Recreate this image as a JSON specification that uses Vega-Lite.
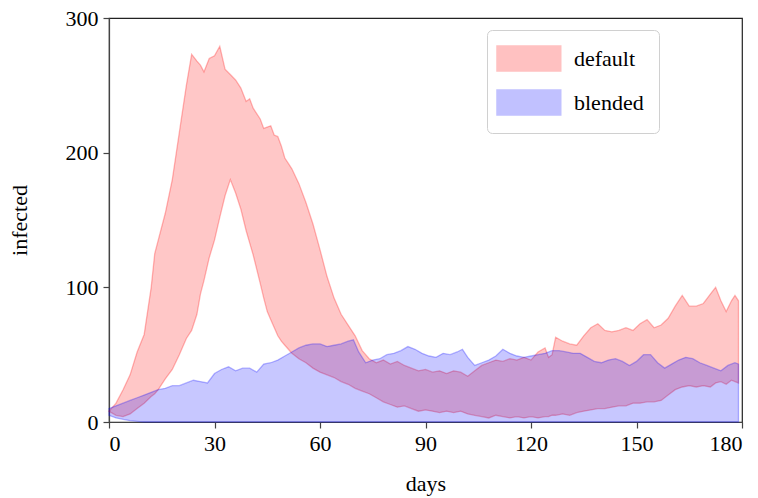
{
  "$schema": "https://vega.github.io/schema/vega-lite/v6.json",
  "width": 633,
  "height": 404,
  "autosize": "none",
  "padding": {"left": 109, "top": 18, "right": 16, "bottom": 76},
  "background": "white",
  "datasets": {
    "def": [
      {"d":0,"lo":8,"hi":8},{"d":2,"lo":5,"hi":14},{"d":4,"lo":4,"hi":24},{"d":6,"lo":6,"hi":35},{"d":8,"lo":10,"hi":52},
      {"d":10,"lo":14,"hi":65},{"d":12,"lo":19,"hi":100},{"d":13,"lo":21,"hi":125},{"d":14,"lo":24,"hi":135},{"d":16,"lo":32,"hi":155},
      {"d":18,"lo":39,"hi":180},{"d":20,"lo":50,"hi":215},{"d":22,"lo":62,"hi":250},{"d":23.5,"lo":68,"hi":273},{"d":25,"lo":80,"hi":268},
      {"d":26,"lo":95,"hi":265},{"d":27,"lo":105,"hi":260},{"d":28.5,"lo":122,"hi":270},{"d":30,"lo":135,"hi":272},{"d":31.5,"lo":152,"hi":279},
      {"d":33,"lo":168,"hi":262},{"d":34.5,"lo":180,"hi":258},{"d":36,"lo":170,"hi":254},{"d":37.5,"lo":158,"hi":248},{"d":39,"lo":142,"hi":238},
      {"d":40,"lo":133,"hi":240},{"d":41,"lo":124,"hi":233},{"d":43,"lo":103,"hi":225},{"d":44,"lo":92,"hi":218},{"d":45,"lo":82,"hi":219},
      {"d":46,"lo":76,"hi":220},{"d":47,"lo":70,"hi":213},{"d":48,"lo":64,"hi":212},{"d":49,"lo":60,"hi":205},{"d":50,"lo":57,"hi":196},
      {"d":51,"lo":54,"hi":192},{"d":52,"lo":51,"hi":188},{"d":54,"lo":47,"hi":177},{"d":56,"lo":44,"hi":163},{"d":58,"lo":40,"hi":147},
      {"d":60,"lo":37,"hi":128},{"d":62,"lo":35,"hi":108},{"d":64,"lo":33,"hi":92},{"d":66,"lo":30,"hi":80},{"d":68,"lo":28,"hi":72},
      {"d":70,"lo":25,"hi":64},{"d":72,"lo":23,"hi":53},{"d":74,"lo":21,"hi":47},{"d":76,"lo":18,"hi":44},{"d":78,"lo":15,"hi":46},
      {"d":80,"lo":13,"hi":43},{"d":82,"lo":11,"hi":45},{"d":84,"lo":12,"hi":42},{"d":86,"lo":10,"hi":40},{"d":88,"lo":8,"hi":38},
      {"d":90,"lo":9,"hi":39},{"d":92,"lo":8,"hi":37},{"d":94,"lo":7,"hi":38},{"d":96,"lo":8,"hi":36},{"d":98,"lo":7,"hi":38},
      {"d":100,"lo":8,"hi":37},{"d":102,"lo":6,"hi":34},{"d":104,"lo":5,"hi":38},{"d":106,"lo":4,"hi":42},{"d":108,"lo":3,"hi":44},
      {"d":110,"lo":5,"hi":46},{"d":112,"lo":4,"hi":45},{"d":114,"lo":3,"hi":47},{"d":116,"lo":4,"hi":46},{"d":118,"lo":3,"hi":48},
      {"d":120,"lo":4,"hi":46},{"d":122,"lo":3,"hi":52},{"d":124,"lo":4,"hi":55},{"d":125,"lo":4,"hi":48},{"d":126,"lo":5,"hi":50},
      {"d":127,"lo":5,"hi":63},{"d":129,"lo":6,"hi":60},{"d":131,"lo":5,"hi":58},{"d":133,"lo":7,"hi":57},{"d":135,"lo":8,"hi":64},
      {"d":137,"lo":9,"hi":70},{"d":139,"lo":10,"hi":73},{"d":141,"lo":10,"hi":68},{"d":143,"lo":11,"hi":67},{"d":145,"lo":12,"hi":68},
      {"d":147,"lo":12,"hi":70},{"d":149,"lo":14,"hi":68},{"d":151,"lo":14,"hi":73},{"d":153,"lo":15,"hi":76},{"d":155,"lo":15,"hi":70},
      {"d":157,"lo":16,"hi":72},{"d":159,"lo":20,"hi":77},{"d":161,"lo":24,"hi":86},{"d":163,"lo":26,"hi":94},{"d":165,"lo":27,"hi":86},
      {"d":167,"lo":26,"hi":86},{"d":169,"lo":27,"hi":88},{"d":171,"lo":26,"hi":95},{"d":172.5,"lo":29,"hi":100},{"d":174,"lo":30,"hi":90},
      {"d":175.5,"lo":28,"hi":82},{"d":177,"lo":31,"hi":90},{"d":178,"lo":30,"hi":94},{"d":179,"lo":29,"hi":90}
    ],
    "ble": [
      {"d":0,"lo":5,"hi":10},{"d":2,"lo":3,"hi":12},{"d":4,"lo":2,"hi":14},{"d":6,"lo":1,"hi":16},{"d":8,"lo":0.5,"hi":18},
      {"d":10,"lo":0,"hi":20},{"d":12,"lo":0,"hi":22},{"d":14,"lo":0,"hi":24},{"d":16,"lo":0,"hi":25},{"d":18,"lo":0,"hi":27},
      {"d":20,"lo":0,"hi":27},{"d":22,"lo":0,"hi":29},{"d":24,"lo":0,"hi":31},{"d":26,"lo":0,"hi":30},{"d":28,"lo":0,"hi":29},
      {"d":30,"lo":0,"hi":36},{"d":32,"lo":0,"hi":39},{"d":34,"lo":0,"hi":41},{"d":36,"lo":0,"hi":38},{"d":38,"lo":0,"hi":40},
      {"d":40,"lo":0,"hi":40},{"d":42,"lo":0,"hi":37},{"d":44,"lo":0,"hi":43},{"d":46,"lo":0,"hi":44},{"d":48,"lo":0,"hi":46},
      {"d":50,"lo":0,"hi":49},{"d":52,"lo":0,"hi":52},{"d":54,"lo":0,"hi":55},{"d":56,"lo":0,"hi":57},{"d":58,"lo":0,"hi":58},
      {"d":60,"lo":0,"hi":58},{"d":62,"lo":0,"hi":56},{"d":64,"lo":0,"hi":57},{"d":66,"lo":0,"hi":58},{"d":68,"lo":0,"hi":60},
      {"d":69.5,"lo":0,"hi":61},{"d":71,"lo":0,"hi":52},{"d":73,"lo":0,"hi":44},{"d":75,"lo":0,"hi":46},{"d":77,"lo":0,"hi":47},
      {"d":79,"lo":0,"hi":50},{"d":81,"lo":0,"hi":51},{"d":83,"lo":0,"hi":53},{"d":85,"lo":0,"hi":56},{"d":87,"lo":0,"hi":54},
      {"d":89,"lo":0,"hi":51},{"d":91,"lo":0,"hi":49},{"d":93,"lo":0,"hi":48},{"d":95,"lo":0,"hi":51},{"d":97,"lo":0,"hi":50},
      {"d":99,"lo":0,"hi":52},{"d":100.5,"lo":0,"hi":54},{"d":102,"lo":0,"hi":48},{"d":104,"lo":0,"hi":42},{"d":106,"lo":0,"hi":44},
      {"d":108,"lo":0,"hi":46},{"d":110,"lo":0,"hi":49},{"d":112,"lo":0,"hi":54},{"d":114,"lo":0,"hi":51},{"d":116,"lo":0,"hi":49},
      {"d":118,"lo":0,"hi":48},{"d":120,"lo":0,"hi":49},{"d":122,"lo":0,"hi":50},{"d":124,"lo":0,"hi":51},{"d":126,"lo":0,"hi":53},
      {"d":128,"lo":0,"hi":53},{"d":130,"lo":0,"hi":52},{"d":132,"lo":0,"hi":51},{"d":134,"lo":0,"hi":51},{"d":136,"lo":0,"hi":48},
      {"d":138,"lo":0,"hi":45},{"d":140,"lo":0,"hi":44},{"d":142,"lo":0,"hi":46},{"d":144,"lo":0,"hi":47},{"d":146,"lo":0,"hi":45},
      {"d":148,"lo":0,"hi":42},{"d":150,"lo":0,"hi":45},{"d":152,"lo":0,"hi":50},{"d":154,"lo":0,"hi":50},{"d":156,"lo":0,"hi":44},
      {"d":158,"lo":0,"hi":40},{"d":160,"lo":0,"hi":43},{"d":162,"lo":0,"hi":46},{"d":164,"lo":0,"hi":48},{"d":166,"lo":0,"hi":47},
      {"d":168,"lo":0,"hi":44},{"d":170,"lo":0,"hi":42},{"d":172,"lo":0,"hi":40},{"d":174,"lo":0,"hi":38},{"d":176,"lo":0,"hi":42},
      {"d":178,"lo":0,"hi":44},{"d":179,"lo":0,"hi":43}
    ]
  },
  "layer": [
    {
      "data": {"name": "def"},
      "transform": [{"calculate": "'default'", "as": "series"}],
      "mark": {"type": "area", "fillOpacity": 0.22, "strokeOpacity": 0.28, "strokeWidth": 1.3, "interpolate": "linear"},
      "encoding": {
        "x": {"field": "d", "type": "quantitative"},
        "y": {"field": "hi", "type": "quantitative"},
        "y2": {"field": "lo"},
        "fill": {"field": "series", "type": "nominal"},
        "stroke": {"field": "series", "type": "nominal"}
      }
    },
    {
      "data": {"name": "ble"},
      "transform": [{"calculate": "'blended'", "as": "series"}],
      "mark": {"type": "area", "fillOpacity": 0.22, "strokeOpacity": 0.28, "strokeWidth": 1.3, "interpolate": "linear"},
      "encoding": {
        "x": {"field": "d", "type": "quantitative"},
        "y": {"field": "hi", "type": "quantitative"},
        "y2": {"field": "lo"},
        "fill": {"field": "series", "type": "nominal"},
        "stroke": {"field": "series", "type": "nominal"}
      }
    }
  ],
  "resolve": {"scale": {"fill": "shared", "stroke": "shared"}},
  "encoding": {
    "x": {"field": "d", "type": "quantitative", "title": "days",
      "scale": {"domain": [0, 180], "nice": false, "zero": false},
      "axis": {"values": [0, 30, 60, 90, 120, 150, 180], "titlePadding": 19}},
    "y": {"field": "hi", "type": "quantitative", "title": "infected",
      "scale": {"domain": [0, 300], "nice": false},
      "axis": {"values": [0, 100, 200, 300], "titlePadding": 34}},
    "fill": {"field": "series", "type": "nominal", "title": null,
      "scale": {"domain": ["default", "blended"], "range": ["#ff0000", "#0000ff"]},
      "legend": {
        "orient": "none", "legendX": 378, "legendY": 12,
        "symbolType": "M-1.48,-1H3.62V1H-1.48Z", "symbolSize": 625,
        "symbolStrokeWidth": 1.5, "symbolOpacity": 0.24,
        "labelOffset": 45, "rowPadding": 13, "padding": 15,
        "strokeColor": "#d0d0d0", "cornerRadius": 5, "fillColor": "white",
        "labelFont": "Liberation Serif", "labelFontSize": 22, "labelColor": "black"
      }},
    "stroke": {"field": "series", "type": "nominal", "title": null,
      "scale": {"domain": ["default", "blended"], "range": ["#ff0000", "#0000ff"]}}
  },
  "config": {
    "view": {"stroke": "#222222", "strokeWidth": 1.2},
    "axis": {
      "grid": false, "domainColor": "#444444", "domainWidth": 1.2,
      "tickColor": "#444444", "tickSize": 6, "tickWidth": 1.2,
      "labelFont": "Liberation Serif", "labelFontSize": 22, "labelColor": "black", "labelPadding": 5,
      "titleFont": "Liberation Serif", "titleFontSize": 22, "titleFontWeight": "normal", "titleColor": "black"
    }
  }
}
